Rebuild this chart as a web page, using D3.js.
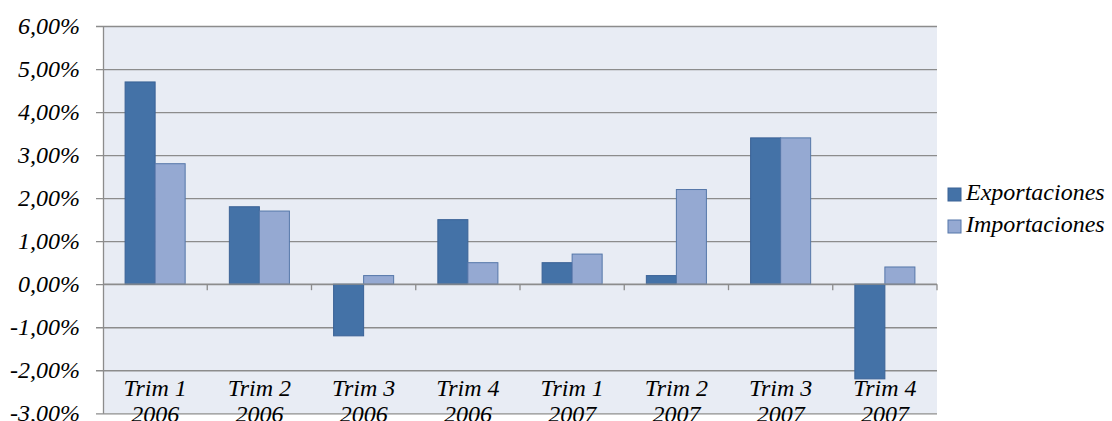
<!DOCTYPE html>
<html>
<head>
<meta charset="utf-8">
<script src="https://cdn.jsdelivr.net/npm/d3@7/dist/d3.min.js"></script>
<style>
  html, body { margin: 0; padding: 0; background: #ffffff; }
  svg { display: block; }
</style>
</head>
<body>
<svg id="chart" width="1112" height="421"></svg>
<script>
// Quarterly growth, in percent
const quarters = ["Trim 1", "Trim 2", "Trim 3", "Trim 4", "Trim 1", "Trim 2", "Trim 3", "Trim 4"];
const years    = ["2006", "2006", "2006", "2006", "2007", "2007", "2007", "2007"];
const seriesNames = ["Exportaciones", "Importaciones"];
const exportaciones = [4.7, 1.8, -1.2, 1.5, 0.5, 0.2, 3.4, -2.2];
const importaciones = [2.8, 1.7, 0.2, 0.5, 0.7, 2.2, 3.4, 0.4];
const yTicks = [-3, -2, -1, 0, 1, 2, 3, 4, 5, 6];

const colors = { fill: ["#4472a7", "#95a9d2"], stroke: ["#3a6296", "#5577a9"] };
const font = "Liberation Serif";
const fontSize = 24;

// apply the chart's italic serif lettering to a text selection
const letter = sel => sel.attr("font-family", font).attr("font-size", fontSize)
  .attr("font-style", "italic").attr("fill", "#000");

const svg = d3.select("#chart");
const plot = { left: 103, right: 937, top: 26, bottom: 413.3 };

const keys = quarters.map((q, i) => i);
const x = d3.scaleBand().domain(keys).range([plot.left, plot.right])
  .paddingInner(0.424).paddingOuter(0.212);
const xs = d3.scaleBand().domain([0, 1]).range([0, x.bandwidth()]);
const y = d3.scaleLinear().domain([-3, 6]).range([plot.bottom, plot.top]);

const locale = d3.formatLocale({ decimal: ",", thousands: ".", grouping: [3], currency: ["", "€"], minus: "-" });
const fmt = v => locale.format(".2f")(v) + "%";

// plot background
svg.append("rect")
  .attr("x", plot.left).attr("y", plot.top)
  .attr("width", plot.right - plot.left).attr("height", plot.bottom - plot.top)
  .attr("fill", "#e8ecf4");

// horizontal gridlines with left tick marks and labels
const yAxis = d3.axisLeft(y).tickValues(yTicks).tickFormat(fmt)
  .tickSize(-(plot.right - plot.left)).tickSizeOuter(0).tickPadding(23);
const gy = svg.append("g").attr("transform", `translate(${plot.left},0)`).call(yAxis);
gy.select(".domain").attr("stroke", "#8c8c8c").attr("stroke-width", 1.3);
gy.selectAll(".tick line").attr("stroke", "#8c8c8c").attr("stroke-width", 1.3)
  .attr("x1", -7);
gy.selectAll(".tick text").call(letter).attr("dy", "0.32em");

// bars
const series = [exportaciones, importaciones];
series.forEach((vals, s) => {
  svg.append("g").selectAll("rect").data(vals).join("rect")
    .attr("x", (d, i) => x(i) + xs(s))
    .attr("width", xs.bandwidth())
    .attr("y", d => y(Math.max(0, d)))
    .attr("height", d => Math.abs(y(d) - y(0)))
    .attr("fill", colors.fill[s])
    .attr("stroke", colors.stroke[s])
    .attr("stroke-width", 1);
});

// category axis along zero
const step = x.step();
const boundaries = d3.range(1, quarters.length + 1).map(i => plot.left + i * step);
const gx = svg.append("g");
gx.append("line")
  .attr("x1", plot.left).attr("x2", plot.right)
  .attr("y1", y(0)).attr("y2", y(0))
  .attr("stroke", "#8c8c8c").attr("stroke-width", 1.3);
gx.selectAll("line.tick").data(boundaries).join("line").attr("class", "tick")
  .attr("x1", d => d).attr("x2", d => d)
  .attr("y1", y(0)).attr("y2", y(0) + 6)
  .attr("stroke", "#8c8c8c").attr("stroke-width", 1.3);

// category labels (two lines)
const labels = svg.append("g").selectAll("text").data(keys).join("text")
  .attr("x", i => x(i) + x.bandwidth() / 2)
  .attr("y", 396)
  .attr("text-anchor", "middle")
  .call(letter);
labels.append("tspan").attr("x", i => x(i) + x.bandwidth() / 2).text(i => quarters[i]);
labels.append("tspan").attr("x", i => x(i) + x.bandwidth() / 2).attr("dy", 26).text(i => years[i]);

// legend
const legend = svg.append("g").attr("transform", "translate(948,188)");
seriesNames.forEach((name, s) => {
  const g = legend.append("g").attr("transform", `translate(0,${s * 32})`);
  g.append("rect").attr("width", 13).attr("height", 13)
    .attr("fill", colors.fill[s]).attr("stroke", colors.stroke[s]).attr("stroke-width", 1);
  g.append("text").attr("x", 18).attr("y", 12).call(letter).text(name);
});
</script>
</body>
</html>
